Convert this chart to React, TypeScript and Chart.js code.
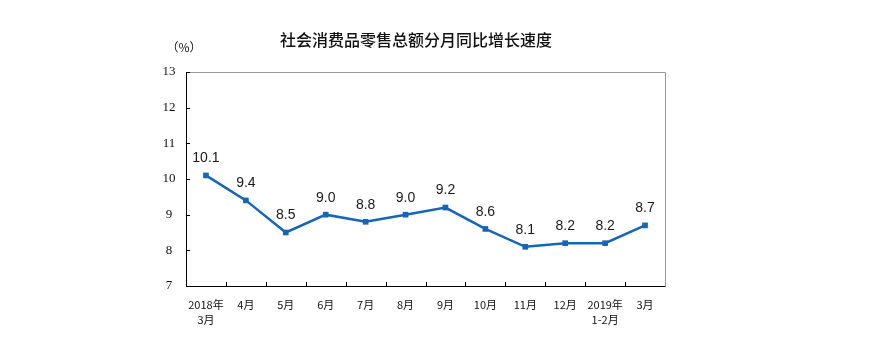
import React, { useEffect, useRef } from "react";
import { Chart, registerables } from "chart.js";

Chart.register(...registerables);

const categories: (string | string[])[] = [
  ["2018年", "3月"], "4月", "5月", "6月", "7月", "8月", "9月", "10月", "11月", "12月", ["2019年", "1-2月"], "3月",
];
const growth = [10.1, 9.4, 8.5, 9.0, 8.8, 9.0, 9.2, 8.6, 8.1, 8.2, 8.2, 8.7];
const yTicks = [7, 8, 9, 10, 11, 12, 13];
const titleText = "社会消费品零售总额分月同比增长速度";
const unitText = "（%）";

const LINE = "#1566b8";

const framePlugin = {
  id: "frame",
  afterDraw(chart: any) {
    const { ctx, chartArea: a, scales } = chart;
    const x = scales.x;
    const y = scales.y;
    ctx.save();
    ctx.lineWidth = 1;
    ctx.strokeStyle = "#9a9a9a";
    ctx.beginPath();
    ctx.moveTo(a.left, a.top + 0.5);
    ctx.lineTo(a.right + 0.5, a.top + 0.5);
    ctx.lineTo(a.right + 0.5, a.bottom);
    ctx.stroke();
    ctx.strokeStyle = "#000";
    ctx.beginPath();
    ctx.moveTo(a.left + 0.5, a.top);
    ctx.lineTo(a.left + 0.5, a.bottom + 0.5);
    ctx.lineTo(a.right + 0.5, a.bottom + 0.5);
    ctx.stroke();
    ctx.beginPath();
    for (let i = 1; i < categories.length; i++) {
      const px = Math.round((x.getPixelForValue(i - 1) + x.getPixelForValue(i)) / 2) + 0.5;
      ctx.moveTo(px, a.bottom);
      ctx.lineTo(px, a.bottom - 4);
    }
    for (const v of yTicks) {
      const py = Math.round(y.getPixelForValue(v)) + 0.5;
      ctx.moveTo(a.left, py);
      ctx.lineTo(a.left + 4, py);
    }
    ctx.stroke();
    ctx.textAlign = "center";
    ctx.textBaseline = "middle";
    // y tick labels
    ctx.fillStyle = "#111";
    ctx.font = '13px "Liberation Serif", "Times New Roman", serif';
    for (const v of yTicks) {
      ctx.fillText(String(v), a.left - 17, y.getPixelForValue(v));
    }
    // data labels
    ctx.fillStyle = "#1a1a1a";
    ctx.font = '14px "Liberation Sans", Arial, sans-serif';
    growth.forEach((v, i) => {
      const px = x.getPixelForValue(i);
      const py = y.getPixelForValue(v);
      ctx.fillText(v.toFixed(1), px, py - 17);
    });
    ctx.font = '500 16px "Noto Sans CJK SC", sans-serif';
    ctx.fillStyle = "#111";
    ctx.fillText(titleText, 416, 40);
    ctx.font = '12px "Noto Sans CJK SC", sans-serif';
    ctx.fillText(unitText, 184, 47);
    ctx.restore();
  },
};

export default function App() {
  const ref = useRef<HTMLCanvasElement | null>(null);
  useEffect(() => {
    if (!ref.current) return;
    const chart = new Chart(ref.current, {
      type: "line",
      data: {
        labels: categories,
        datasets: [
          {
            data: growth,
            borderColor: LINE,
            backgroundColor: LINE,
            borderWidth: 2.5,
            pointStyle: "rect",
            pointRadius: 4,
            pointBorderWidth: 0,
            tension: 0,
          },
        ],
      },
      options: {
        animation: false,
        responsive: true,
        maintainAspectRatio: false,
        layout: { padding: { left: 150, right: 204, top: 72, bottom: 10 } },
        plugins: { legend: { display: false }, tooltip: { enabled: false }, title: { display: false } },
        scales: {
          x: {
            offset: true,
            grid: { display: false },
            border: { display: false },
            ticks: {
              color: "#111",
              font: { family: '"Noto Sans CJK SC", sans-serif', size: 11, lineHeight: 1.4 },
              padding: 3,
              maxRotation: 0,
              autoSkip: false,
            },
            afterFit(s: any) {
              s.height = 65;
            },
          },
          y: {
            min: 7,
            max: 13,
            grid: { display: false },
            border: { display: false },
            ticks: { stepSize: 1, display: false },
            afterFit(s: any) {
              s.width = 36;
            },
          },
        },
      },
      plugins: [framePlugin],
    });
    return () => chart.destroy();
  }, []);
  return (
    <div style={{ position: "fixed", left: 0, top: 0, width: 869, height: 361, background: "#fff" }}>
      <canvas ref={ref} />
    </div>
  );
}
